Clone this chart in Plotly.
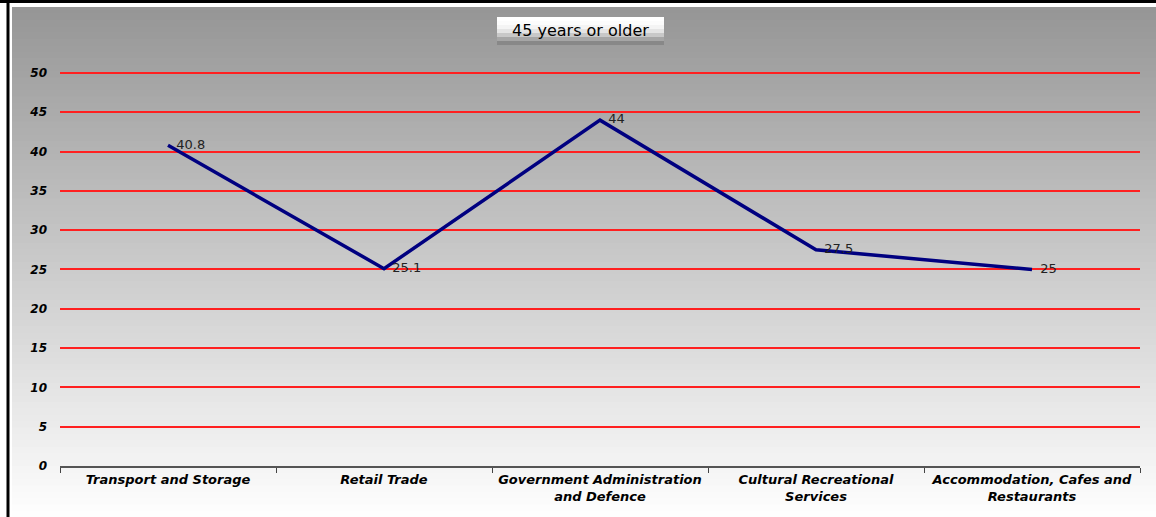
import plotly.graph_objects as go

categories = ['Transport and Storage', 'Retail Trade', 'Government Administration<br>and Defence',
              'Cultural Recreational<br>Services', 'Accommodation, Cafes and<br>Restaurants']
values = [40.8, 25.1, 44, 27.5, 25]
y_ticks = [0, 5, 10, 15, 20, 25, 30, 35, 40, 45, 50]
title_text = '45 years or older'

W, H = 1156, 517
L, R, T, B = 60, 16, 71, 51
pw, ph = W - L - R, H - T - B

def px_x(x):
    return (x - L) / pw

def px_y(y):
    return (H - B - y) / ph

shapes = []
# grey-to-white vertical gradient behind the chart (strips overlap a little to avoid seams)
n = 80
top, bot = 7, H
for i in range(n):
    y0 = top + (bot - top) * i / n
    y1 = min(top + (bot - top) * (i + 1) / n + 1.5, bot)
    c = int(150 + (255 - 150) * (i + 0.5) / n)
    shapes.append(dict(type='rect', xref='paper', yref='paper', layer='below',
                       x0=px_x(12), x1=px_x(W), y0=px_y(y1), y1=px_y(y0),
                       fillcolor='rgb(%d,%d,%d)' % (c, c, c), line=dict(width=0)))

# title box with a light gradient
bx0, bx1, by0, by1 = 497, 664, 17, 45
box_cols = ['#ffffff', '#fcfcfc', '#f4f4f4', '#e4e4e4', '#c8c8c8', '#a6a6a6', '#888888']
for i, col in enumerate(box_cols):
    y0 = by0 + (by1 - by0) * i / len(box_cols)
    y1 = by0 + (by1 - by0) * (i + 1) / len(box_cols) + (0.5 if i < len(box_cols) - 1 else 0)
    shapes.append(dict(type='rect', xref='paper', yref='paper', layer='below',
                       x0=px_x(bx0), x1=px_x(bx1), y0=px_y(y1), y1=px_y(y0),
                       fillcolor=col, line=dict(width=0)))

# frame lines
shapes.append(dict(type='line', xref='paper', yref='paper', x0=px_x(0), x1=px_x(W),
                   y0=px_y(1.5), y1=px_y(1.5), line=dict(color='black', width=3)))
shapes.append(dict(type='line', xref='paper', yref='paper', x0=px_x(8), x1=px_x(8),
                   y0=px_y(0), y1=px_y(H), line=dict(color='black', width=3)))

fig = go.Figure()
fig.add_trace(go.Scatter(x=categories, y=values, mode='lines+text',
                         text=[str(v) for v in values], textposition='middle right',
                         texttemplate='  %{text}',
                         textfont=dict(family='DejaVu Sans', size=13, color='#222222'),
                         line=dict(color='#000080', width=3.5), cliponaxis=False))

fig.add_annotation(text=title_text, xref='paper', yref='paper',
                   x=px_x((bx0 + bx1) / 2), y=px_y((by0 + by1) / 2),
                   xanchor='center', yanchor='middle',
                   showarrow=False, font=dict(family='DejaVu Sans', size=16, color='black'))

fig.update_xaxes(range=[-0.5, 4.5], automargin=False,
                 tickson='boundaries', ticks='outside', ticklen=5, tickcolor='#444',
                 showline=True, linecolor='#555', linewidth=2, showgrid=False,
                 tickfont=dict(family='DejaVu Sans', size=13, color='black', weight='bold', style='italic'))
fig.update_yaxes(range=[0, 50.25], tickvals=y_ticks, automargin=False,
                 showgrid=True, gridcolor='#ff2020', gridwidth=1.5,
                 zeroline=False, showline=False, ticks='', ticklabelstandoff=12,
                 tickfont=dict(family='DejaVu Sans', size=12, color='black', weight='bold', style='italic'))
fig.update_layout(width=W, height=H, margin=dict(l=L, r=R, t=T, b=B, autoexpand=False),
                  paper_bgcolor='white', plot_bgcolor='rgba(0,0,0,0)',
                  showlegend=False, shapes=shapes)
fig.write_html("out.html", config={'displayModeBar': False},
               post_script="document.body.style.margin='0';document.body.style.overflow='hidden';")
